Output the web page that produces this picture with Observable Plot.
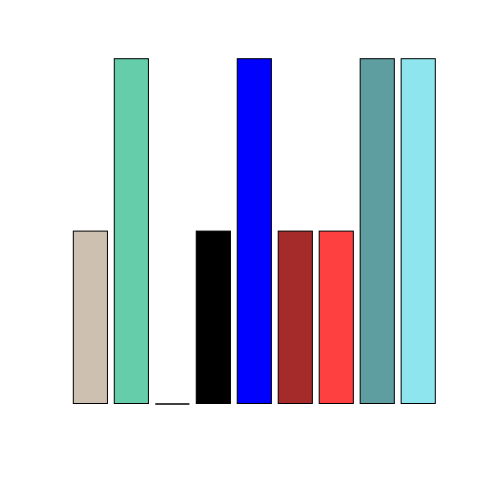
<!DOCTYPE html>
<html>
<head>
<meta charset="utf-8">
<script src="https://cdn.jsdelivr.net/npm/d3@7"></script>
<script src="https://cdn.jsdelivr.net/npm/@observablehq/plot@0.6"></script>
<style>
  html, body { margin: 0; padding: 0; background: #fff; }
  #chart svg { display: block; }
</style>
</head>
<body>
<div id="chart"></div>
<script>
const categories = ["1", "2", "3", "4", "5", "6", "7", "8", "9"];
const values = [1, 2, 0, 1, 2, 1, 1, 2, 2];
const colors = ["#CDC0B0", "#66CDAA", "#FFFFFF", "#000000", "#0000FF", "#A52A2A", "#FF4040", "#5F9EA0", "#8EE5EE"];

const data = categories.map((c, i) => ({cat: c, value: values[i], color: colors[i]}));

const chart = Plot.plot({
  width: 480,
  height: 480,
  marginLeft: 73.3,
  marginRight: 44.7,
  marginTop: 58.7,
  marginBottom: 76.5,
  style: {background: "#fff"},
  x: {type: "band", domain: categories, paddingInner: 0.2 / 1.2, paddingOuter: 0, round: false, axis: null},
  y: {domain: [0, 2], axis: null},
  marks: [
    Plot.barY(data, {x: "cat", y: "value", fill: "color", stroke: "#000", strokeWidth: 1, insetLeft: 0, insetRight: 0}),
    Plot.tickY(data.filter(d => d.value === 0), {x: "cat", y: 0, stroke: "#000", strokeWidth: 1.3})
  ]
});
document.getElementById("chart").appendChild(chart);
</script>
</body>
</html>
